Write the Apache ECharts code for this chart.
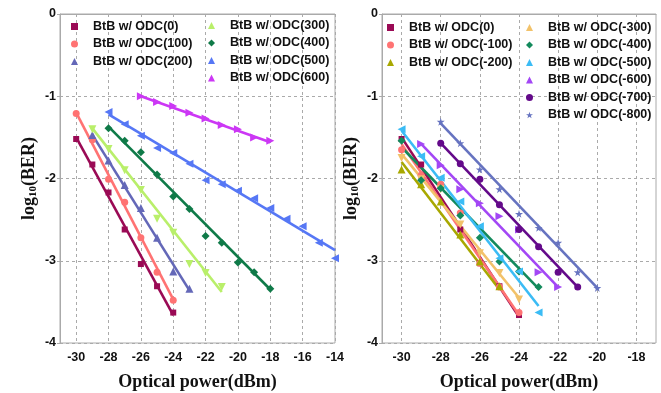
<!DOCTYPE html>
<html>
<head>
<meta charset="utf-8">
<script src="https://cdn.jsdelivr.net/npm/echarts@6/dist/echarts.min.js"></script>
<style>
  html, body { margin: 0; padding: 0; background: #fff; }
  #chart { width: 661px; height: 393px; }
</style>
</head>
<body>
<div id="chart"></div>
<script>
// x ticks shared by both panels
const xTicks = [-30, -28, -26, -24, -22, -20, -18, -16, -14];

// left panel: positive ODC, measured points [power, log10(BER)]
const odc0L = [[-30, -1.52], [-29, -1.83], [-28, -2.17], [-27, -2.62], [-26, -3.04], [-25, -3.31], [-24, -3.63]];
const odc100 = [[-30, -1.21], [-29, -1.53], [-28, -2.01], [-27, -2.29], [-26, -2.72], [-25, -3.14], [-24, -3.48]];
const odc200 = [[-29, -1.47], [-28, -1.78], [-27, -2.08], [-26, -2.36], [-25, -2.72], [-24, -3.13], [-23, -3.34]];
const odc300 = [[-29, -1.40], [-28, -1.64], [-27, -1.90], [-26, -2.14], [-25, -2.49], [-24, -2.66], [-23, -3.04], [-22, -3.15], [-21, -3.32]];
const odc400 = [[-28, -1.39], [-27, -1.54], [-26, -1.68], [-25, -1.95], [-24, -2.22], [-23, -2.37], [-22, -2.70], [-21, -2.78], [-20, -3.02], [-19, -3.14], [-18, -3.34]];
const odc500 = [[-28, -1.19], [-27, -1.34], [-26, -1.48], [-25, -1.63], [-24, -1.69], [-23, -1.82], [-22, -2.02], [-21, -2.07], [-20, -2.15], [-19, -2.24], [-18, -2.36], [-17, -2.49], [-16, -2.58], [-15, -2.78], [-14, -2.97]];
const odc600 = [[-26, -1.00], [-25, -1.07], [-24, -1.12], [-23, -1.20], [-22, -1.27], [-21, -1.35], [-20, -1.40], [-19, -1.50], [-18, -1.54]];

// left panel: fitted lines (end points)
const fit0L = [[-30, -1.50], [-24, -3.66]];
const fit100 = [[-30, -1.20], [-24, -3.47]];
const fit200 = [[-29, -1.47], [-23, -3.36]];
const fit300 = [[-29, -1.39], [-21, -3.38]];
const fit400 = [[-28, -1.37], [-18, -3.35]];
const fit500 = [[-28, -1.22], [-14, -2.87]];
const fit600 = [[-26, -1.00], [-18, -1.56]];

// right panel: negative ODC, measured points
const odc0R = [[-30, -1.52], [-29, -1.83], [-28, -2.09], [-27, -2.62], [-26, -3.03], [-25, -3.31], [-24, -3.66]];
const odcM100 = [[-30, -1.65], [-29, -1.96], [-28, -2.07], [-27, -2.42], [-26, -3.03], [-25, -3.32], [-24, -3.63]];
const odcM200 = [[-30, -1.89], [-29, -2.07], [-28, -2.28], [-27, -2.68], [-26, -3.01], [-25, -3.31]];
const odcM300 = [[-30, -1.75], [-29, -2.01], [-28, -2.13], [-27, -2.56], [-26, -2.91], [-25, -3.15], [-24, -3.47]];
const odcM400 = [[-30, -1.54], [-29, -2.02], [-28, -2.12], [-27, -2.45], [-26, -2.72], [-25, -3.01], [-24, -3.13], [-23, -3.32]];
const odcM500 = [[-30, -1.40], [-29, -1.73], [-28, -1.99], [-27, -2.28], [-26, -2.58], [-25, -2.97], [-24, -3.13], [-23, -3.63]];
const odcM600 = [[-29, -1.58], [-28, -1.84], [-27, -2.13], [-26, -2.30], [-25, -2.46], [-24, -2.62], [-23, -3.14], [-22, -3.32]];
const odcM700 = [[-28, -1.57], [-27, -1.82], [-26, -2.01], [-25, -2.32], [-24, -2.62], [-23, -2.83], [-22, -3.14], [-21, -3.32]];
const odcM800 = [[-28, -1.31], [-27, -1.57], [-26, -1.89], [-25, -2.13], [-24, -2.43], [-23, -2.60], [-22, -2.78], [-21, -3.14], [-20, -3.33]];

// right panel: fitted lines
const fit0R = [[-30, -1.50], [-24, -3.68]];
const fitM100 = [[-30, -1.58], [-24, -3.66]];
const fitM200 = [[-30, -1.80], [-25, -3.35]];
const fitM300 = [[-30, -1.70], [-24, -3.45]];
const fitM400 = [[-30, -1.62], [-23, -3.34]];
const fitM500 = [[-30, -1.42], [-23, -3.55]];
const fitM600 = [[-29, -1.58], [-22, -3.32]];
const fitM700 = [[-28, -1.57], [-21, -3.32]];
const fitM800 = [[-28, -1.33], [-20, -3.33]];

const STAR = 'path://M50,0 L61,35 L98,35 L68,57 L79,91 L50,70 L21,91 L32,57 L2,35 L39,35 Z';

// name, points, fit, colour, symbol, size, rotate, panel
const seriesDefs = [
  ['BtB w/ ODC(0)', odc0L, fit0L, '#9a0a55', 'rect', 6, 0, 0],
  ['BtB w/ ODC(100)', odc100, fit100, '#ff7373', 'circle', 7, 0, 0],
  ['BtB w/ ODC(200)', odc200, fit200, '#6468b8', 'triangle', 8, 0, 0],
  ['BtB w/ ODC(300)', odc300, fit300, '#b9ef6a', 'triangle', 8, 180, 0],
  ['BtB w/ ODC(400)', odc400, fit400, '#0f7a48', 'diamond', 8, 0, 0],
  ['BtB w/ ODC(500)', odc500, fit500, '#5677f5', 'triangle', 8, 90, 0],
  ['BtB w/ ODC(600)', odc600, fit600, '#cc37f5', 'triangle', 8, -90, 0],
  ['BtB w/ ODC(0) ', odc0R, fit0R, '#9a0a55', 'rect', 6, 0, 1],
  ['BtB w/ ODC(-100)', odcM100, fitM100, '#ff7373', 'circle', 7, 0, 1],
  ['BtB w/ ODC(-200)', odcM200, fitM200, '#a8a800', 'triangle', 8, 0, 1],
  ['BtB w/ ODC(-300)', odcM300, fitM300, '#f2c26a', 'triangle', 8, 180, 1],
  ['BtB w/ ODC(-400)', odcM400, fitM400, '#138a5c', 'diamond', 8, 0, 1],
  ['BtB w/ ODC(-500)', odcM500, fitM500, '#3bbcf5', 'triangle', 8, 90, 1],
  ['BtB w/ ODC(-600)', odcM600, fitM600, '#a347f5', 'triangle', 8, -90, 1],
  ['BtB w/ ODC(-700)', odcM700, fitM700, '#640a8a', 'circle', 7, 0, 1],
  ['BtB w/ ODC(-800)', odcM800, fitM800, '#6673c0', STAR, 8, 0, 1]
];

const series = [];
seriesDefs.forEach(function (d) {
  series.push({
    name: d[0] + '_fit',
    type: 'line',
    xAxisIndex: d[7], yAxisIndex: d[7],
    data: d[2],
    showSymbol: false,
    silent: true,
    lineStyle: { color: d[3], width: 2.6 },
    z: 2
  });
  series.push({
    name: d[0],
    type: 'scatter',
    xAxisIndex: d[7], yAxisIndex: d[7],
    data: d[1],
    symbol: d[4],
    symbolSize: d[5],
    symbolRotate: d[6],
    itemStyle: { color: d[3], opacity: 1 },
    z: 3
  });
});

const legendText = { fontFamily: 'Liberation Sans, Arial', fontWeight: 'bold', fontSize: 12.5, color: '#111', padding: [0, 0, 0, 10] };
function legend(left, top, names) {
  return {
    orient: 'vertical', left: left, top: top,
    itemWidth: 7, itemHeight: 7, itemGap: 4.5,
    selectedMode: false,
    textStyle: legendText,
    formatter: function (n) { return n.trim(); },
    data: names
  };
}

const axisLabelFont = { fontFamily: 'Liberation Sans, Arial', fontWeight: 'bold', fontSize: 12.5, color: '#111' };
const gridLine = { show: true, lineStyle: { color: '#aaa', type: [3, 3], width: 1 } };
const nameFont = { fontFamily: 'Liberation Serif, Times New Roman', fontWeight: 'bold', fontSize: 18, color: '#111' };

function xAxis(idx, max) {
  return {
    type: 'value', gridIndex: idx, min: -31, max: max,
    name: 'Optical power(dBm)', nameLocation: 'middle', nameGap: 30,
    nameTextStyle: nameFont,
    axisLine: { lineStyle: { color: '#aaa' } },
    axisTick: { show: false, customValues: xTicks },
    axisLabel: Object.assign({ customValues: xTicks, margin: 8 }, axisLabelFont),
    splitLine: gridLine
  };
}
function yAxis(idx) {
  return {
    type: 'value', gridIndex: idx, min: -4, max: 0, interval: 1,
    name: '{a|log}{s|10}{a|(BER)}', nameLocation: 'middle', nameGap: 21, nameRotate: 90,
    nameTextStyle: {
      rich: {
        a: nameFont,
        s: { fontFamily: 'Liberation Serif', fontWeight: 'bold', fontSize: 11, color: '#111', padding: [8, 0, 0, 0] }
      }
    },
    axisLine: { show: true, lineStyle: { color: '#aaa' } },
    axisTick: { show: true, length: 3, inside: false, lineStyle: { color: '#aaa' } },
    axisLabel: Object.assign({ margin: 4 }, axisLabelFont),
    splitLine: gridLine
  };
}

const chart = echarts.init(document.getElementById('chart'), null, { renderer: 'canvas' });
chart.setOption({
  animation: false,
  backgroundColor: '#fff',
  grid: [
    { left: 60, right: 326, top: 14, bottom: 50, outerBoundsMode: 'none', show: true, borderColor: '#aaa', borderWidth: 1 },
    { left: 382, right: 5, top: 14, bottom: 50, outerBoundsMode: 'none', show: true, borderColor: '#aaa', borderWidth: 1 }
  ],
  legend: [
    legend(66, 15, ['BtB w/ ODC(0)', 'BtB w/ ODC(100)', 'BtB w/ ODC(200)']),
    legend(203, 14, ['BtB w/ ODC(300)', 'BtB w/ ODC(400)', 'BtB w/ ODC(500)', 'BtB w/ ODC(600)']),
    legend(382, 16, ['BtB w/ ODC(0) ', 'BtB w/ ODC(-100)', 'BtB w/ ODC(-200)']),
    legend(521, 16, ['BtB w/ ODC(-300)', 'BtB w/ ODC(-400)', 'BtB w/ ODC(-500)', 'BtB w/ ODC(-600)', 'BtB w/ ODC(-700)', 'BtB w/ ODC(-800)'])
  ],
  xAxis: [xAxis(0, -14), xAxis(1, -17)],
  yAxis: [yAxis(0), yAxis(1)],
  series: series
});
</script>
</body>
</html>
